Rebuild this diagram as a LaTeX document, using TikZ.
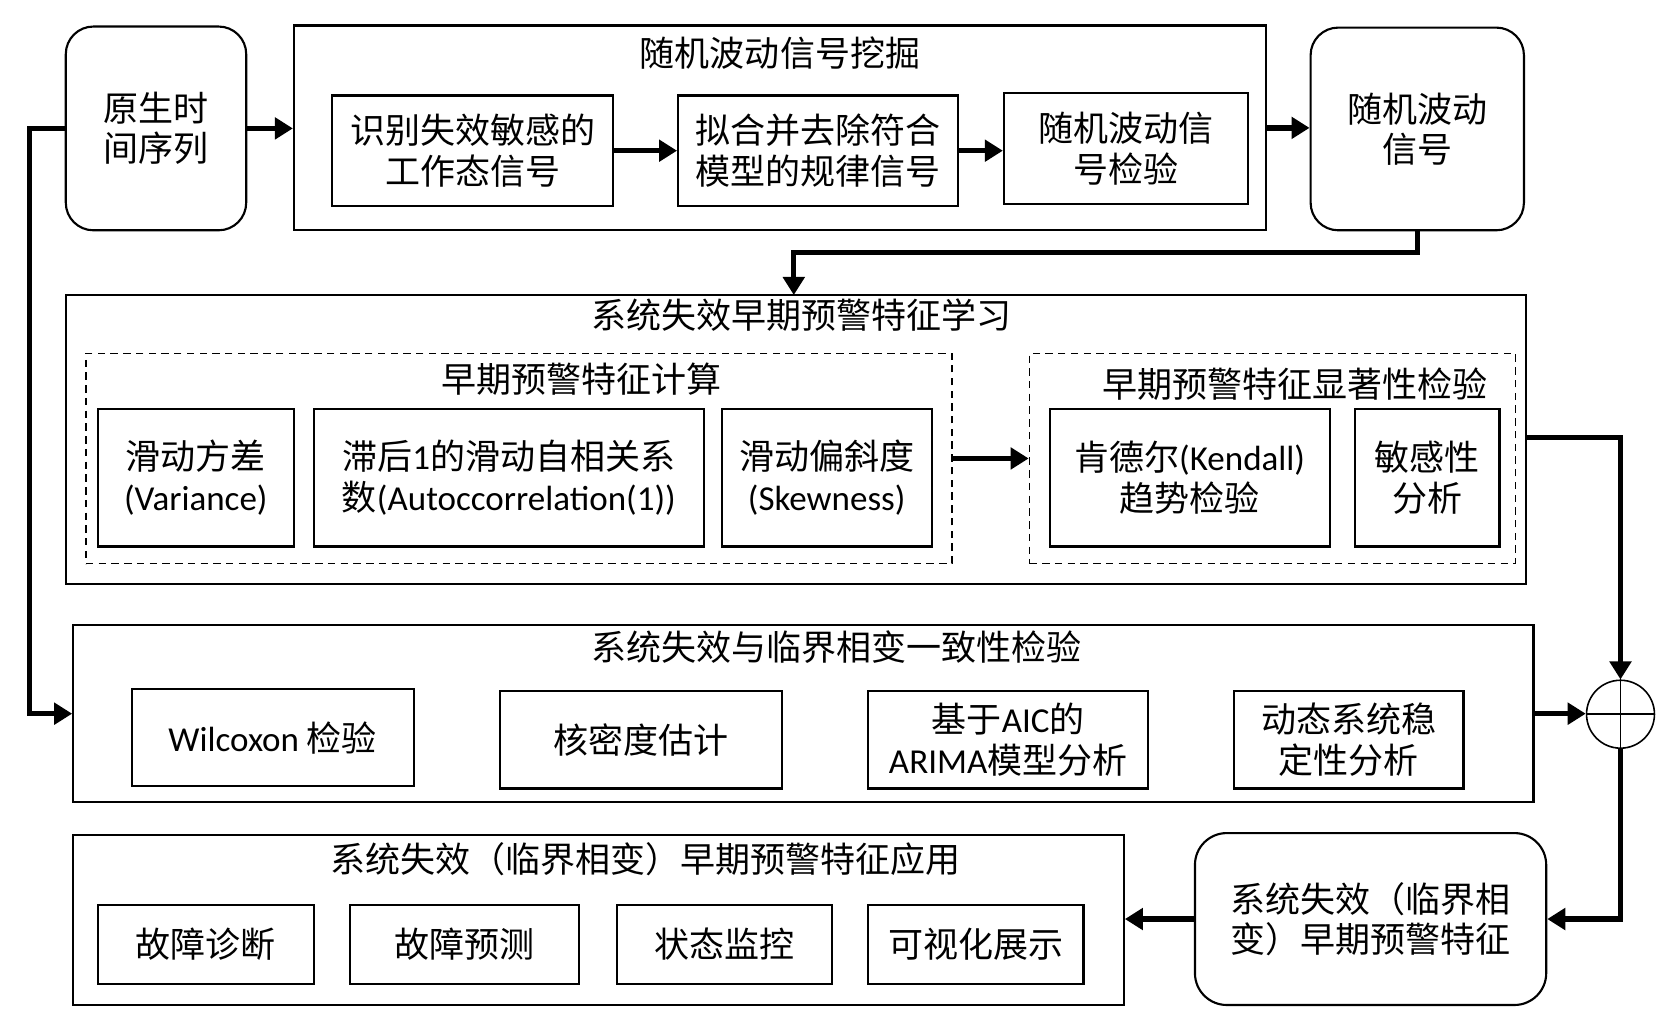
\documentclass[tikz,border=0pt]{standalone}
\usepackage{fontspec}
\setmainfont{Noto Sans CJK SC}
\newfontfamily\latf{Carlito}
\usetikzlibrary{arrows.meta}
\begin{document}
\begin{tikzpicture}[x=1pt,y=-1pt,
  every node/.style={font=\fontsize{33}{38}\selectfont, align=center, inner sep=0pt},
  box/.style={draw, line width=2pt},
  rbox/.style={draw, line width=2pt, rounded corners=26pt},
  dbox/.style={draw, line width=1.4pt, dash pattern=on 7pt off 5pt},
  ttl/.style={},
  arr/.style={line width=5pt, -{Triangle[length=17pt,width=20pt]}},
]
\useasboundingbox (0,0) rectangle (1568,959);

% top row
\node[rbox, minimum width=170pt, minimum height=192pt] (A) at (147,121) {原生时\\间序列};
\node[box, minimum width=916pt, minimum height=193pt] (B) at (735,120.5) {};
\node[ttl] (Bt) at (735,50) {随机波动信号挖掘};
\node[box, minimum width=265pt, minimum height=104pt] (B1) at (445.5,142) {识别失效敏感的\\工作态信号};
\node[box, minimum width=264pt, minimum height=104pt] (B2) at (771,142) {拟合并去除符合\\模型的规律信号};
\node[box, minimum width=230pt, minimum height=104pt] (B3) at (1061,140) {随机波动信\\号检验};
\node[rbox, minimum width=201pt, minimum height=191pt] (C) at (1335.5,121.5) {随机波动\\信号};

% learning block
\node[box, minimum width=1376pt, minimum height=272pt] (D) at (750,414) {};
\node[ttl] (Dt) at (755,297) {系统失效早期预警特征学习};
\node[dbox, minimum width=816pt, minimum height=198pt] (D1) at (489,432) {};
\node[ttl] (D1t) at (548,357) {早期预警特征计算};
\node[box, minimum width=185pt, minimum height=130pt] (D1a) at (184.5,450) {滑动方差\\{\latf (Variance)}};
\node[box, minimum width=367pt, minimum height=130pt] (D1b) at (479.5,450) {滞后{\latf 1}的滑动自相关系\\数{\latf (Autoccorrelation(1))}};
\node[box, minimum width=198pt, minimum height=130pt] (D1c) at (779,450) {滑动偏斜度\\{\latf (Skewness)}};
\node[dbox, minimum width=458pt, minimum height=198pt] (D2) at (1199,432) {};
\node[ttl] (D2t) at (1220,362) {早期预警特征显著性检验};
\node[box, minimum width=264pt, minimum height=130pt] (D2a) at (1121,450) {肯德尔{\latf (Kendall)}\\趋势检验};
\node[box, minimum width=136pt, minimum height=130pt] (D2b) at (1345,450) {敏感性\\分析};

% sum
\node[draw, circle, line width=1.5pt, minimum size=64pt] (S) at (1527,673) {};
\draw[line width=1.5pt] (S.north) -- (S.south) (S.west) -- (S.east);

% consistency block
\node[box, minimum width=1376pt, minimum height=167pt] (E) at (757,672.5) {};
\node[ttl] (Et) at (788,610) {系统失效与临界相变一致性检验};
\node[box, minimum width=266pt, minimum height=92pt] (E1) at (257,695) {{\latf Wilcoxon} 检验};
\node[box, minimum width=266pt, minimum height=92pt] (E2) at (604,697) {核密度估计};
\node[box, minimum width=264pt, minimum height=92pt] (E3) at (950,697) {基于{\latf AIC}的\\{\latf ARIMA}模型分析};
\node[box, minimum width=216pt, minimum height=92pt] (E4) at (1271,697) {动态系统稳\\定性分析};

% application block
\node[rbox, rounded corners=30pt, minimum width=331pt, minimum height=162pt] (F) at (1291.5,866) {系统失效（临界相\\变）早期预警特征};
\node[box, minimum width=990pt, minimum height=160pt] (G) at (564,867) {};
\node[ttl] (Gt) at (608,810) {系统失效（临界相变）早期预警特征应用};
\node[box, minimum width=204pt, minimum height=74pt] (G1) at (194,890) {故障诊断};
\node[box, minimum width=216pt, minimum height=74pt] (G2) at (438,890) {故障预测};
\node[box, minimum width=203pt, minimum height=74pt] (G3) at (682.5,890) {状态监控};
\node[box, minimum width=203pt, minimum height=74pt] (G4) at (919.5,890) {可视化展示};

% helper coordinates
\coordinate (k1) at (748,238);
\coordinate (dtop) at (748,278);
\coordinate (dout) at (1438,412);
\coordinate (lx) at (28,121);

% connectors
\draw[arr] (A.east) -- (A.east -| B.west);
\draw[arr] (B1.east) -- (B2.west);
\draw[arr] (B2.east) -- (B2.east -| B3.west);
\draw[arr] (B.east) -- (B.east -| C.west);
\draw[arr] (C.south) |- (k1) -- (dtop);
\draw[arr] (D1.east) -- (D2.west);
\draw[arr] (dout) -| (S.north);
\draw[arr] (E.east) -- (E.east -| S.west);
\draw[arr] (A.west) -- (lx) |- (E.west);
\draw[arr] (S.south) |- (F.east);
\draw[arr] (F.west) -- (F.west -| G.east);
\end{tikzpicture}
\end{document}
